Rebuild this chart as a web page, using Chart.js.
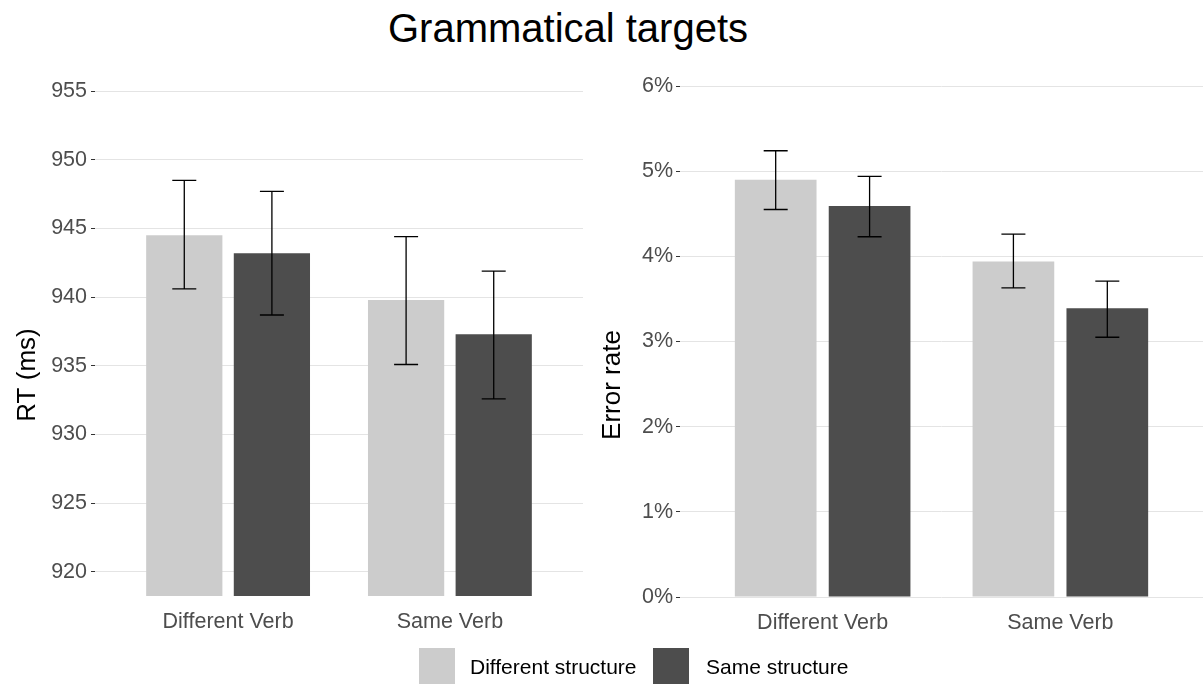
<!DOCTYPE html>
<html>
<head>
<meta charset="utf-8">
<script src="https://cdn.jsdelivr.net/npm/chart.js@4/dist/chart.umd.min.js"></script>
<style>
  body { margin: 0; background: #fff; font-family: 'Liberation Sans', Arial, sans-serif; }
  #wrap { position: relative; width: 1203px; height: 684px; overflow: hidden; }
  #title { position: absolute; left: 568px; top: 6px; transform: translateX(-50%); font-size: 40px; line-height: 44px; color: #000; white-space: nowrap; }
  .panel { position: absolute; top: 0; height: 684px; }
  #rtBox { left: 0; width: 595px; }
  #errBox { left: 595px; width: 608px; }
  .key { position: absolute; top: 648px; width: 36px; height: 36px; }
  .keyText { position: absolute; top: 654px; font-size: 21px; line-height: 26px; color: #000; white-space: nowrap; }
</style>
</head>
<body>
<div id="wrap">
  <div id="title">Grammatical targets</div>
  <div class="panel" id="rtBox"><canvas id="rtChart"></canvas></div>
  <div class="panel" id="errBox"><canvas id="errChart"></canvas></div>
  <div class="key" style="left:419px;background:#cccccc"></div>
  <div class="keyText" style="left:470px">Different structure</div>
  <div class="key" style="left:653px;background:#4d4d4d"></div>
  <div class="keyText" style="left:706px">Same structure</div>
</div>
<script>
const categories = ['Different Verb', 'Same Verb'];
const seriesNames = ['Different structure', 'Same structure'];

// RT (ms)
const rtDiffStruct = [944.5, 939.8];
const rtSameStruct = [943.2, 937.3];
const rtDiffLow = [940.6, 935.1];
const rtDiffHigh = [948.5, 944.4];
const rtSameLow = [938.7, 932.6];
const rtSameHigh = [947.7, 941.9];
const rtTicks = [920, 925, 930, 935, 940, 945, 950, 955];

// error rate
const errDiffStruct = [0.0490, 0.0394];
const errSameStruct = [0.0459, 0.0339];
const errDiffLow = [0.0455, 0.0363];
const errDiffHigh = [0.0524, 0.0426];
const errSameLow = [0.0423, 0.0305];
const errSameHigh = [0.0494, 0.0371];
const errTicks = [0, 0.01, 0.02, 0.03, 0.04, 0.05, 0.06];

const tickFont = { family: "'Liberation Sans', Arial, sans-serif", size: 21.5 };

const toPoints = vals => vals.map((v, i) => ({ x: i + 1, y: v }));

// draws error bars from the low/high arrays stored on each dataset
const errorBars = {
  id: 'errorBars',
  afterDatasetsDraw(chart) {
    const ctx = chart.ctx;
    const yScale = chart.scales.y;
    ctx.save();
    ctx.strokeStyle = '#000';
    ctx.lineWidth = 1.3;
    chart.data.datasets.forEach((ds, i) => {
      const meta = chart.getDatasetMeta(i);
      meta.data.forEach((bar, j) => {
        const lo = yScale.getPixelForValue(ds.low[j]);
        const hi = yScale.getPixelForValue(ds.high[j]);
        const half = 12;
        ctx.beginPath();
        ctx.moveTo(bar.x, lo); ctx.lineTo(bar.x, hi);
        ctx.moveTo(bar.x - half, lo); ctx.lineTo(bar.x + half, lo);
        ctx.moveTo(bar.x - half, hi); ctx.lineTo(bar.x + half, hi);
        ctx.stroke();
      });
    });
    ctx.restore();
  }
};

// rotated y axis title, placed like ggplot does
const axisTitle = {
  id: 'axisTitle',
  afterDraw(chart, args, opts) {
    const ctx = chart.ctx;
    ctx.save();
    ctx.translate(opts.x, opts.y);
    ctx.rotate(-Math.PI / 2);
    ctx.font = "26px 'Liberation Sans', Arial, sans-serif";
    ctx.fillStyle = '#000';
    ctx.textAlign = 'center';
    ctx.textBaseline = 'middle';
    ctx.fillText(opts.text, 0, 0);
    ctx.restore();
  }
};

function makeChart(id, cfg) {
  return new Chart(document.getElementById(id).getContext('2d'), {
    type: 'bar',
    data: {
      datasets: [
        { label: seriesNames[0], data: toPoints(cfg.a), low: cfg.aLow, high: cfg.aHigh, backgroundColor: '#cccccc' },
        { label: seriesNames[1], data: toPoints(cfg.b), low: cfg.bLow, high: cfg.bHigh, backgroundColor: '#4d4d4d' },
      ],
    },
    plugins: [errorBars, axisTitle],
    options: {
      responsive: true,
      maintainAspectRatio: false,
      animation: false,
      categoryPercentage: 0.79,
      barPercentage: 0.87,
      layout: { padding: cfg.padding },
      plugins: {
        legend: { display: false },
        title: { display: false },
        tooltip: { enabled: false },
        axisTitle: cfg.title,
      },
      scales: {
        x: {
          type: 'linear',
          offset: false,
          min: 0.4,
          max: 2.6,
          grid: { display: false },
          border: { display: false },
          afterBuildTicks: s => { s.ticks = categories.map((c, i) => ({ value: i + 1 })); },
          afterFit: s => { s.height = 40; },
          ticks: {
            padding: 5,
            color: '#4d4d4d',
            font: tickFont,
            callback: v => categories[v - 1],
          },
        },
        y: {
          min: cfg.min,
          max: cfg.max,
          border: { display: false },
          grid: { color: '#e4e4e4', lineWidth: 1, tickLength: 4, tickColor: '#333' },
          afterBuildTicks: s => { s.ticks = cfg.ticks.map(v => ({ value: v })); },
          afterFit: s => { s.width = cfg.axisWidth; },
          ticks: {
            padding: cfg.tickPad,
            color: '#4d4d4d',
            font: tickFont,
            callback: cfg.fmt,
          },
        },
      },
    },
  });
}

makeChart('rtChart', {
  a: rtDiffStruct, b: rtSameStruct,
  aLow: rtDiffLow, aHigh: rtDiffHigh, bLow: rtSameLow, bHigh: rtSameHigh,
  min: 918.25, max: 956.75, ticks: rtTicks,
  fmt: v => String(v),
  axisWidth: 95,
  tickPad: 4,
  padding: { top: 67, right: 12, bottom: 48, left: 0 },
  title: { text: 'RT (ms)', x: 28, y: 375 },
});

makeChart('errChart', {
  a: errDiffStruct, b: errSameStruct,
  aLow: errDiffLow, aHigh: errDiffHigh, bLow: errSameLow, bHigh: errSameHigh,
  min: 0, max: 0.06, ticks: errTicks,
  fmt: v => Math.round(v * 100) + '%',
  axisWidth: 85,
  tickPad: 3,
  padding: { top: 86, right: 0, bottom: 47, left: 0 },
  title: { text: 'Error rate', x: 18, y: 385 },
});
</script>
</body>
</html>
